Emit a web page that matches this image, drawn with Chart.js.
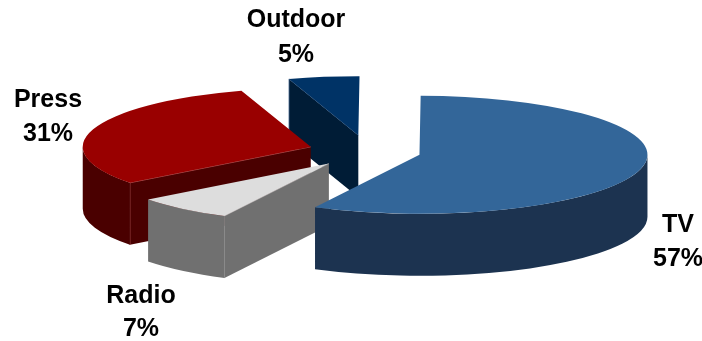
<!DOCTYPE html>
<html>
<head>
<meta charset="utf-8">
<style>
  html, body { margin: 0; padding: 0; background: #ffffff; }
  #wrap { width: 702px; height: 341px; }
</style>
<script src="https://cdn.jsdelivr.net/npm/chart.js@4/dist/chart.umd.min.js"></script>
</head>
<body>
<div id="wrap"><canvas id="pieChart" width="702" height="341"></canvas></div>
<script>
const categories = ['TV', 'Radio', 'Press', 'Outdoor'];
const shares = [57.49, 7, 30.51, 5];

// Styling per slice
const topColors = ['#336699', '#dddddd', '#990000', '#003366'];
const sideColors = ['#1c3350', '#707070', '#4a0000', '#001c36'];
const seamColors = ['#4a6a90', '#9a9a9a', '#b05050', '#4a6a90'];
const explode = [53, 61, 60, 64];
const paintOrder = [3, 2, 1, 0]; // back to front

// Label anchors: x, y of name line, y of percent line
const labelPos = [[678, 232, 266], [141, 303, 336], [48, 107, 141], [296, 27, 62]];

const squash = 59 / 228;
const depth = 62 / squash;

function seam(ctx, color) {
    // keep the hairline 1px wide: stroke outside the squash transform
    ctx.save();
    ctx.setTransform(1, 0, 0, 1, 0, 0);
    ctx.strokeStyle = color;
    ctx.lineWidth = 0.8;
    ctx.stroke();
    ctx.restore();
}

function drawSides(ctx, arc, i) {
    const { x, y, startAngle, endAngle, outerRadius: r } = arc.getProps(['x', 'y', 'startAngle', 'endAngle', 'outerRadius'], true);
    ctx.fillStyle = sideColors[i];

    // flat cut faces, only when they look toward the viewer
    [[startAngle, -Math.cos(startAngle)], [endAngle, Math.cos(endAngle)]].forEach(([a, facing]) => {
        if (facing <= 0.02) return;
        const ex = x + Math.cos(a) * r;
        const ey = y + Math.sin(a) * r;
        ctx.beginPath();
        ctx.moveTo(x, y);
        ctx.lineTo(ex, ey);
        ctx.lineTo(ex, ey + depth);
        ctx.lineTo(x, y + depth);
        ctx.closePath();
        ctx.fill();
        ctx.beginPath();
        ctx.moveTo(x, y);
        ctx.lineTo(ex, ey);
        ctx.lineTo(ex, ey + depth);
        seam(ctx, seamColors[i]);
    });

    // rounded outer wall, only the part on the near half
    const from = Math.max(startAngle, 0);
    const to = Math.min(endAngle, Math.PI);
    if (to > from) {
        ctx.beginPath();
        ctx.arc(x, y, r, from, to);
        ctx.arc(x, y + depth, r, to, from, true);
        ctx.closePath();
        ctx.fill();
    }
}

const pie3d = {
    id: 'pie3d',
    beforeDatasetDraw(chart) {
        const ctx = chart.ctx;
        const arcs = chart.getDatasetMeta(0).data;
        paintOrder.forEach(i => {
            const arc = arcs[i];
            const mid = (arc.startAngle + arc.endAngle) / 2;
            ctx.save();
            ctx.translate(0, arc.y);
            ctx.scale(1, squash);
            ctx.translate(0, -arc.y);
            ctx.translate(Math.cos(mid) * explode[i], Math.sin(mid) * explode[i]);
            drawSides(ctx, arc, i);
            arc.draw(ctx);
            ctx.restore();
        });
        return false;
    },
    afterDraw(chart) {
        const ctx = chart.ctx;
        ctx.save();
        ctx.fillStyle = '#000000';
        ctx.font = 'bold 25px "Liberation Sans"';
        ctx.textAlign = 'center';
        ctx.textBaseline = 'alphabetic';
        categories.forEach((name, i) => {
            const [lx, y1, y2] = labelPos[i];
            ctx.fillText(name, lx, y1);
            ctx.fillText(Math.round(shares[i]) + '%', lx, y2);
        });
        ctx.restore();
    }
};

new Chart(document.getElementById('pieChart').getContext('2d'), {
    type: 'pie',
    data: {
        labels: categories,
        datasets: [{
            data: shares,
            backgroundColor: topColors,
            borderWidth: 0,
            clip: false
        }]
    },
    options: {
        responsive: false,
        animation: false,
        radius: 228,
        rotation: 0.3,
        layout: { padding: { left: 34, bottom: 38 } },
        plugins: {
            legend: { display: false },
            tooltip: { enabled: false }
        }
    },
    plugins: [pie3d]
});
</script>
</body>
</html>
